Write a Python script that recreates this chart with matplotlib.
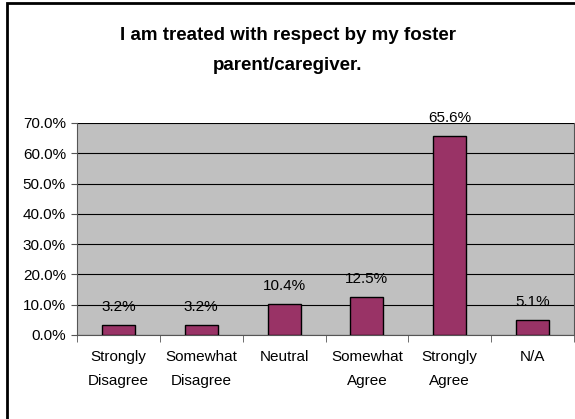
import matplotlib.pyplot as plt
from matplotlib.patches import Rectangle
import numpy as np

plt.rcParams['font.family'] = ['Liberation Sans', 'DejaVu Sans']

categories = ["Strongly\nDisagree", "Somewhat\nDisagree", "Neutral",
              "Somewhat\nAgree", "Strongly\nAgree", "N/A"]
values = [3.2, 3.2, 10.4, 12.5, 65.6, 5.1]
yticks = [0, 10, 20, 30, 40, 50, 60, 70]

W, H = 575, 419
fig = plt.figure(figsize=(W / 100, H / 100), dpi=100)
fig.patch.set_facecolor('white')

# outer chart border (cut off on right and bottom, like the source)
fig.patches.append(Rectangle((7 / W, -0.05), 1.1, 1.05 - 3 / H,
                             transform=fig.transFigure, fill=False,
                             edgecolor='black', lw=2))

left, right, top, bottom = 77, 574, 123, 335
ax = fig.add_axes([left / W, 1 - bottom / H, (right - left) / W, (bottom - top) / H])
ax.set_facecolor('#C0C0C0')

x = np.arange(len(categories))
ax.bar(x, values, width=0.4, color='#993366', edgecolor='black', lw=1, zorder=3)
for xi, v in zip(x, values):
    ax.annotate(f"{v:.1f}%", (xi, v), xytext=(0, 10), textcoords='offset points',
                ha='center', va='baseline', fontsize=11, zorder=4)

ax.set_xlim(-0.5, len(categories) - 0.5)
ax.set_ylim(0, 70)
ax.set_yticks(yticks)
ax.set_yticklabels([f"{t:.1f}%" for t in yticks], fontsize=11)
ax.yaxis.grid(True, color='black', lw=0.8, zorder=0)
ax.set_axisbelow(True)

ax.set_xticks(x)
ax.set_xticklabels(categories, fontsize=11, linespacing=1.85)
ax.set_xticks(np.arange(len(categories) + 1) - 0.5, minor=True)
ax.tick_params(axis='x', which='major', length=0, pad=11)
ax.tick_params(axis='x', which='minor', length=5, color='#555555', direction='out')
ax.tick_params(axis='y', length=4, color='#555555', direction='out', pad=4)

ax.spines['top'].set_visible(False)
for s in ['left', 'bottom', 'right']:
    ax.spines[s].set_color('#555555')

fig.text(0.5, 1 - 50 / H, "I am treated with respect by my foster\nparent/caregiver.",
         ha='center', va='center', fontsize=13.5, fontweight='bold', linespacing=2.0)

fig.savefig('out.png', dpi=100)
